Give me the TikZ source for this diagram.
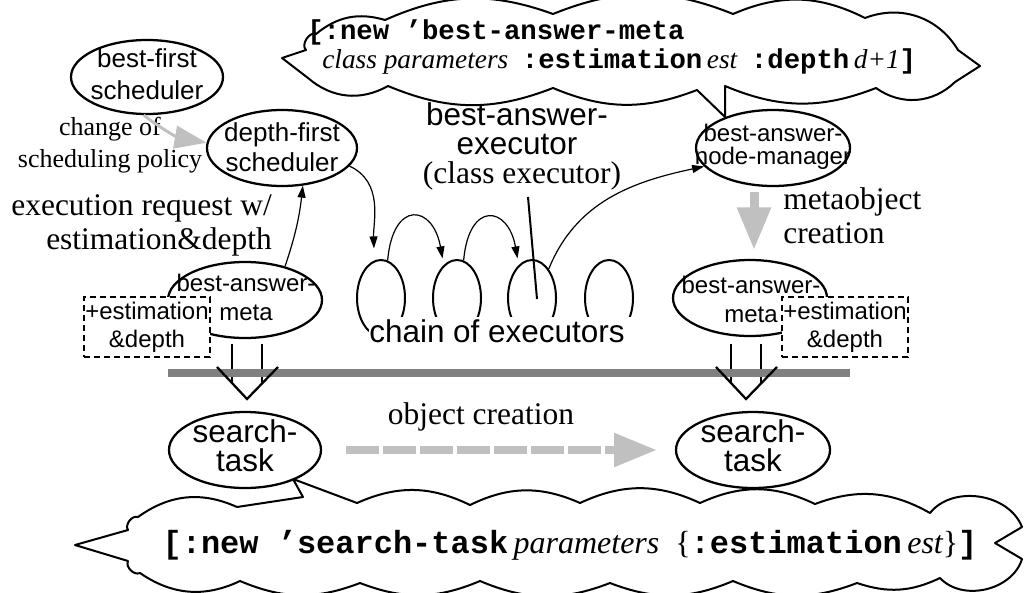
\documentclass[tikz,border=0pt]{standalone}
\usepackage{fontspec}
\setmainfont{Liberation Serif}
\setsansfont{Liberation Sans}
\setmonofont{Liberation Mono}
\usetikzlibrary{arrows.meta,shapes.geometric}
\definecolor{palegrey}{HTML}{C0C0C0}
\definecolor{bargrey}{HTML}{808080}
\newcommand{\fsz}[2]{\fontsize{#1}{#2}\selectfont}
\newcommand{\code}[1]{{\ttfamily\bfseries #1}}
\begin{document}
\begin{tikzpicture}[x=0.75pt,y=0.75pt,
  oval/.style={draw,ellipse,line width=1.7pt,inner sep=0pt,fill=white},
  execarch/.style={draw,ellipse,line width=1.5pt,inner sep=0pt,minimum width=36pt,minimum height=57pt},
  cloudline/.style={draw,line width=1.5pt,fill=white,line join=round},
  sansL/.style={font=\sffamily\fsz{23.6}{22},align=center,inner sep=0pt},
  sansM/.style={font=\sffamily\fsz{19.5}{24},align=center,inner sep=0pt},
  sansS/.style={font=\sffamily\fsz{18}{21.75},align=center,inner sep=0pt},
  serifL/.style={font=\rmfamily\fsz{23.6}{25.5},align=center,inner sep=0pt},
  serifM/.style={font=\rmfamily\fsz{19.5}{24},align=center,inner sep=0pt},
  dbox/.style={draw,line width=1.5pt,dash pattern=on 4.5pt off 3pt,fill=white,
    minimum width=94.5pt,minimum height=45pt,inner sep=0pt,
    font=\sffamily\fsz{18}{21},align=center},
  thinarr/.style={line width=0.9pt,-{Triangle[length=9pt,width=6pt]}},
  hollow/.style={line width=1.7pt},
]
\useasboundingbox (0,0) rectangle (1030,-592);

% ---- speech clouds
\draw[cloudline] (282,-58) -- (306,-50) to[bend left=80] (316,-34)
  to[bend left=28] (385,-20) to[bend left=22] (553,-14) to[bend left=22] (733,-14)
  to[bend left=25] (865,-18) to[bend left=40] (958,-50) -- (980,-66) -- (955,-82)
  to[bend left=40] (876,-88) to[bend left=22] (725,-86) -- (725,-117) -- (697,-90)
  to[bend left=22] (553,-88) to[bend left=22] (388,-86) to[bend left=35] (308,-78)
  -- cycle;
\draw[cloudline] (75,-545) -- (128,-530) to[bend left=70] (138,-517)
  to[bend left=30] (237,-507) -- (303,-497) -- (293,-479) -- (357,-503)
  to[bend left=25] (470,-505) to[bend left=25] (580,-503) to[bend left=25] (700,-503)
  to[bend left=25] (815,-504) to[bend left=25] (930,-513)
  to[bend left=60] (1022,-527) -- (995,-543) -- (1022,-559)
  to[bend left=60] (940,-578)
  to[bend left=22] (857,-583) to[bend left=22] (733,-581) to[bend left=22] (610,-583)
  to[bend left=22] (480,-581) to[bend left=22] (360,-583) to[bend left=22] (240,-581)
  to[bend left=30] (140,-573) to[bend left=70] (128,-561) -- cycle;

\node[inner sep=0pt,anchor=west,font=\fsz{20.5}{24}] (cloudA1) at (307,-32)
  {\code{[:new ’best-answer-meta}};
\node[inner sep=0pt,anchor=west,font=\fsz{20.5}{24}] (cloudA2) at (322,-62)
  {{\itshape class parameters}\enspace\code{:estimation}\,{\itshape est}\enspace\code{:depth}\,{\itshape d+1}\code{]}};
\node[inner sep=0pt,font=\fsz{24}{28}] (cloudB) at (570,-545)
  {\code{[:new ’search-task}\,{\itshape parameters}\enspace\{\code{:estimation}\,{\itshape est}\}\code{]}};

% ---- schedulers, managers, metaobjects, tasks
\node[oval,minimum width=114pt,minimum height=55.5pt] (bfs) at (147,-77) {};
\node[sansM] (bfsT) at (147,-74) {best-first\\scheduler};
\node[oval,minimum width=112.5pt,minimum height=57pt] (dfs) at (282,-148) {};
\node[sansM,font=\sffamily\fsz{19.5}{22.5}] (dfsT) at (282,-147) {depth-first\\scheduler};
\node[oval,minimum width=115.5pt,minimum height=57pt] (nm) at (773,-148) {};
\node[sansS,font=\sffamily\fsz{18}{17.5}] (nmT) at (773,-146.5) {best-answer-\\node-manager};
\node[oval,minimum width=115.5pt,minimum height=57pt] (metaL) at (245,-300) {};
\node[sansS] (metaLT) at (246,-297.5) {best-answer-\\meta};
\node[oval,minimum width=115.5pt,minimum height=57pt] (metaR) at (750,-298) {};
\node[sansS] (metaRT) at (751,-299.5) {best-answer-\\meta};
\node[dbox] (estL) at (147,-327) {+estimation\\\&depth};
\node[dbox] (estR) at (845,-327) {+estimation\\\&depth};
\node[oval,minimum width=114pt,minimum height=57pt] (stL) at (245,-450) {};
\node[sansL] (stLT) at (245,-446) {search-\\task};
\node[oval,minimum width=115.5pt,minimum height=57pt] (stR) at (753,-450) {};
\node[sansL] (stRT) at (753,-446) {search-\\task};

% ---- chain of executors
\foreach \i/\x in {1/381,2/457,3/532,4/609}
  \node[execarch] (ex\i) at (\x,-298) {};
\fill[white] (369,-317) rectangle (642,-352);
\node[sansL] (chainT) at (497,-331) {chain of executors};

% ---- labels
\node[serifM] (polT) at (110,-145) {change of\\scheduling policy};
\node[serifL,anchor=east,align=right] (reqT) at (272,-225) {execution request w/\\estimation\&depth};
\node[sansL,font=\sffamily\fsz{23.6}{21.75}] (baeT) at (517,-129) {best-answer-\\executor};
\node[serifL] (clsT) at (522,-176) {(class executor)};
\node[serifL,anchor=west,align=left] (moT) at (783,-216) {metaobject\\creation};
\node[serifL] (ocT) at (481,-417) {object creation};

% ---- connectors
\draw[palegrey,line width=2.2pt,-{Triangle[length=24pt,width=17pt]}]
  (bfs.265) to[out=-38,in=170] (dfs.176);
\draw[thinarr] (metaL.40) to[bend right=6] (dfs.299);
\draw[thinarr,shorten >=9pt] (dfs.-15) to[out=-25,in=92] (ex1.100);
\draw[thinarr,shorten >=5pt] (ex1.80) to[out=85,in=100,looseness=2.8] (ex2.112);
\draw[thinarr,shorten >=5pt] (ex2.80) to[out=85,in=100,looseness=2.8] (ex3.112);
\draw[thinarr] (ex3.60) to[out=68,in=192] (nm.195);
\coordinate (ptrA) at (528,-197);
\coordinate (ptrB) at (537,-299);
\draw[line width=1.5pt] (ptrA) -- (ptrB);

\coordinate (moA) at (754,-192);
\coordinate (moB) at (754,-250);
\draw[palegrey,line width=6.75pt,-{Triangle[length=32pt,width=24pt]}] (moA) -- (moB);

\draw[palegrey,line width=6pt,dash pattern=on 24.75pt off 3pt,
  -{Triangle[length=32pt,width=24pt]},shorten <=18pt,shorten >=13.5pt]
  (stL.east) -- (stR.west);

% ---- open arrows across the base-level boundary
\coordinate (dnL) at (247,-399);
\coordinate (dnR) at (746,-399);
\draw[hollow] (dnL) ++(-15,55) -- ++(0,-39) (dnL) ++(15,55) -- ++(0,-39);
\draw[hollow] (dnR) ++(-15,55) -- ++(0,-39) (dnR) ++(15,55) -- ++(0,-39);
\draw[bargrey,line width=6pt] (168,-373) -- (850,-373);
\draw[hollow] (dnL) ++(-30,32) -- (dnL) -- ++(31,32);
\draw[hollow] (dnR) ++(-30,32) -- (dnR) -- ++(31,32);
\end{tikzpicture}
\end{document}
